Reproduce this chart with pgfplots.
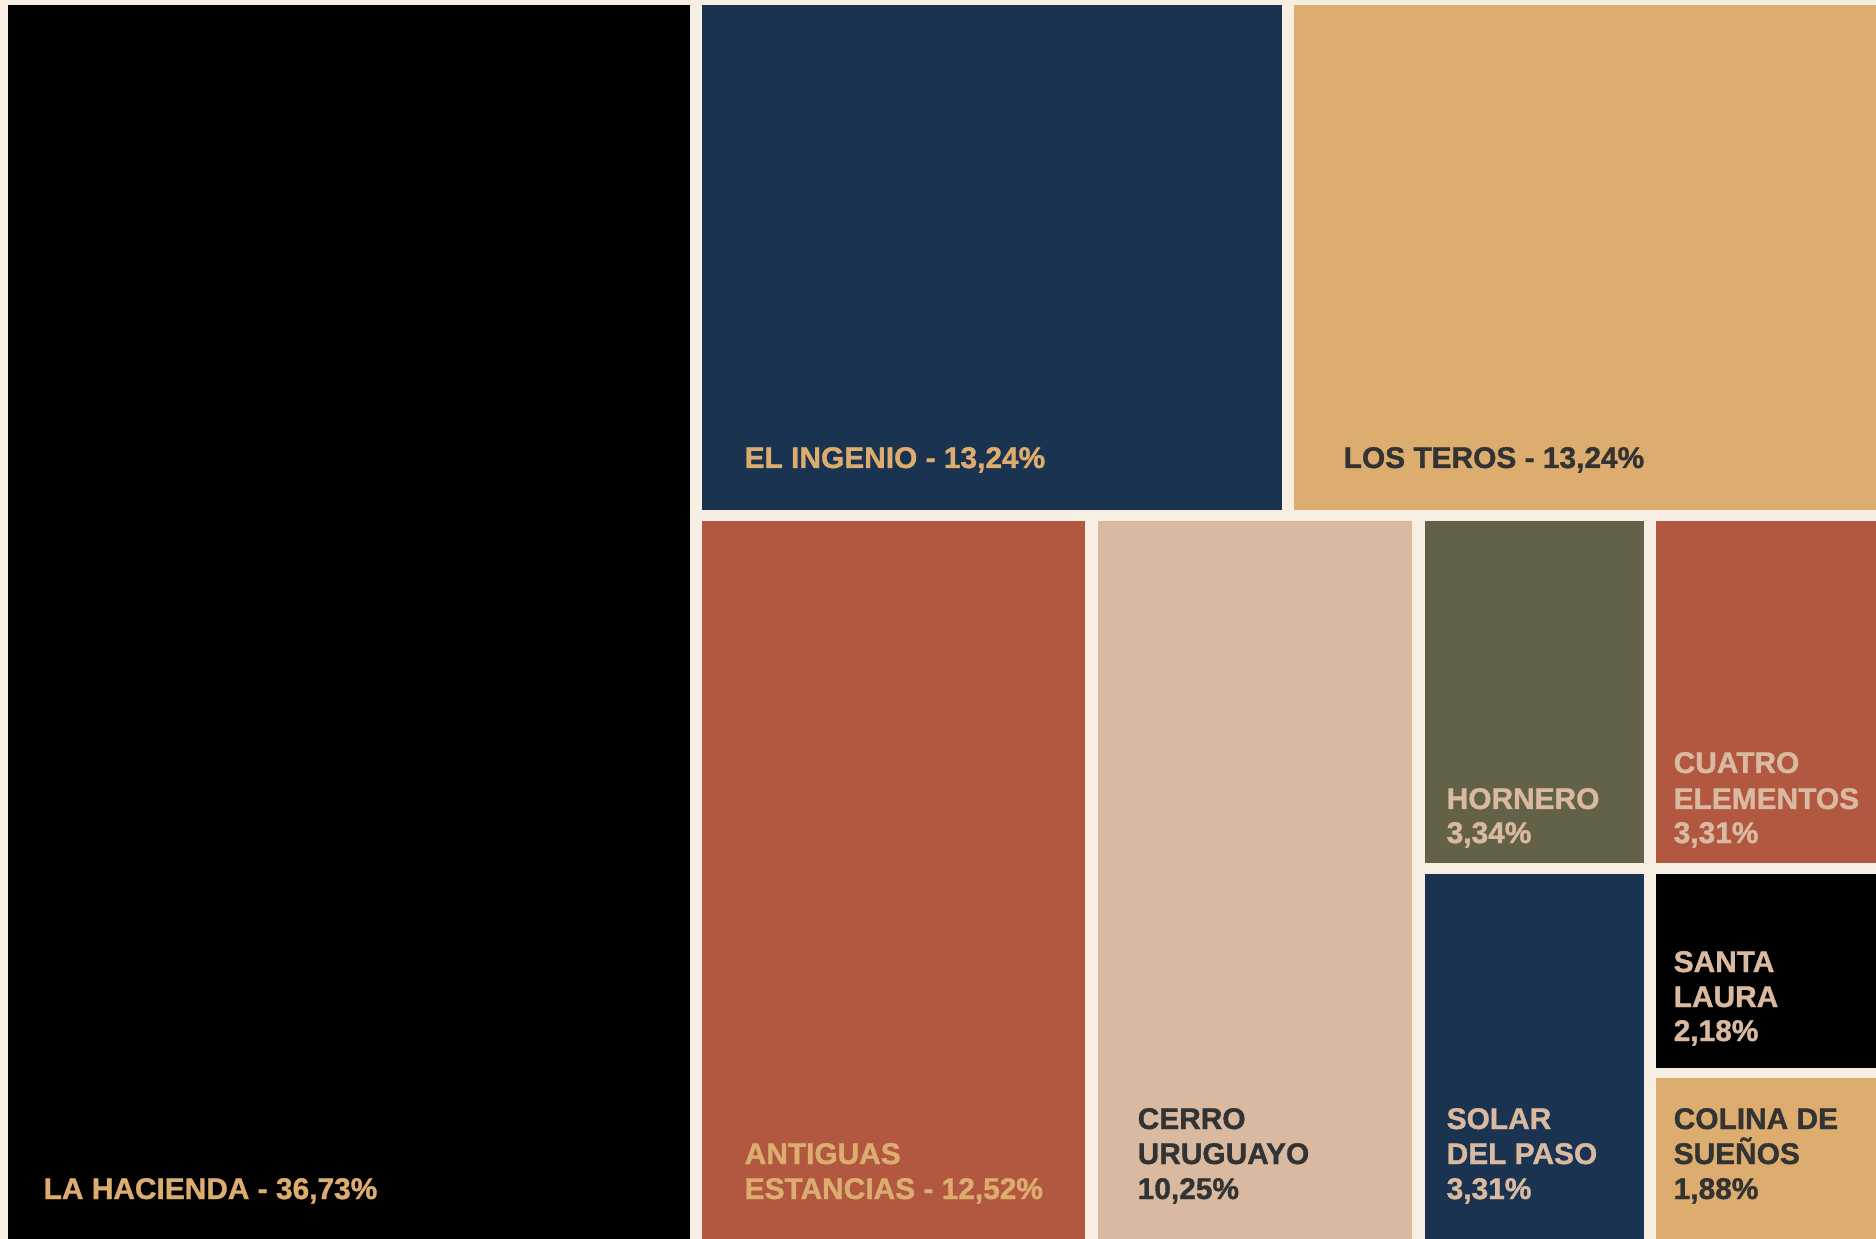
\documentclass[border=0pt]{standalone}
\usepackage{fontspec}
\setmainfont{Liberation Sans}
\newfontfamily\heavyfont{Liberation Sans}[FakeBold=1.2]
\usepackage{pgfplots}
\pgfplotsset{compat=1.18}
\definecolor{cream}{HTML}{F6EEE3}
\definecolor{navy}{HTML}{1A3350}
\definecolor{tan}{HTML}{DDAD6F}
\definecolor{rust}{HTML}{B25841}
\definecolor{beige}{HTML}{D9B9A0}
\definecolor{olive}{HTML}{636248}
\definecolor{darktxt}{HTML}{333333}
\newcommand{\lblfont}{\heavyfont\fontsize{8.5}{10}\selectfont\bfseries}
\newcommand{\lbl}[4]{\node[anchor=base west, inner sep=0pt, text=#3, font=\lblfont] at (axis cs:#1,#2) {#4};}
\begin{document}
\begin{tikzpicture}
\begin{axis}[
  width=187.6mm, height=123.9mm, scale only axis,
  xmin=0, xmax=1876, ymin=0, ymax=1239, y dir=reverse,
  hide axis, clip=true,
]
% background
\addplot[fill=cream, draw=none] coordinates {(0,0) (1876,0) (1876,1239) (0,1239)} -- cycle;
% La Hacienda 36,73%
\addplot[fill=black, draw=none] coordinates {(8,5) (690,5) (690,1239) (8,1239)} -- cycle;
% El Ingenio 13,24%
\addplot[fill=navy, draw=none] coordinates {(702,5) (1282,5) (1282,510) (702,510)} -- cycle;
% Los Teros 13,24%
\addplot[fill=tan, draw=none] coordinates {(1294,5) (1876,5) (1876,510) (1294,510)} -- cycle;
% Antiguas Estancias 12,52%
\addplot[fill=rust, draw=none] coordinates {(702,521) (1085,521) (1085,1239) (702,1239)} -- cycle;
% Cerro Uruguayo 10,25%
\addplot[fill=beige, draw=none] coordinates {(1098,521) (1412,521) (1412,1239) (1098,1239)} -- cycle;
% Hornero 3,34%
\addplot[fill=olive, draw=none] coordinates {(1425,521) (1644,521) (1644,863) (1425,863)} -- cycle;
% Cuatro Elementos 3,31%
\addplot[fill=rust, draw=none] coordinates {(1656,521) (1876,521) (1876,863) (1656,863)} -- cycle;
% Solar del Paso 3,31%
\addplot[fill=navy, draw=none] coordinates {(1425,874) (1644,874) (1644,1239) (1425,1239)} -- cycle;
% Santa Laura 2,18%
\addplot[fill=black, draw=none] coordinates {(1656,874) (1876,874) (1876,1068) (1656,1068)} -- cycle;
% Colina de Sueños 1,88%
\addplot[fill=tan, draw=none] coordinates {(1656,1078) (1876,1078) (1876,1239) (1656,1239)} -- cycle;

\lbl{43}{1199}{tan}{LA HACIENDA - 36,73\%}
\lbl{744}{468}{tan}{EL INGENIO - 13,24\%}
\lbl{1343}{468}{darktxt}{LOS TEROS - 13,24\%}
\lbl{744}{1164}{tan}{ANTIGUAS}
\lbl{744}{1199}{tan}{ESTANCIAS - 12,52\%}
\lbl{1137}{1129}{darktxt}{CERRO}
\lbl{1137}{1164}{darktxt}{URUGUAYO}
\lbl{1137}{1199}{darktxt}{10,25\%}
\lbl{1446}{809}{beige}{HORNERO}
\lbl{1446}{843}{beige}{3,34\%}
\lbl{1673}{773}{beige}{CUATRO}
\lbl{1673}{809}{beige}{ELEMENTOS}
\lbl{1673}{843}{beige}{3,31\%}
\lbl{1673}{972}{beige}{SANTA}
\lbl{1673}{1007}{beige}{LAURA}
\lbl{1673}{1041}{beige}{2,18\%}
\lbl{1446}{1129}{beige}{SOLAR}
\lbl{1446}{1164}{beige}{DEL PASO}
\lbl{1446}{1199}{beige}{3,31\%}
\lbl{1673}{1129}{darktxt}{COLINA DE}
\lbl{1673}{1164}{darktxt}{SUEÑOS}
\lbl{1673}{1199}{darktxt}{1,88\%}
\end{axis}
\end{tikzpicture}
\end{document}
